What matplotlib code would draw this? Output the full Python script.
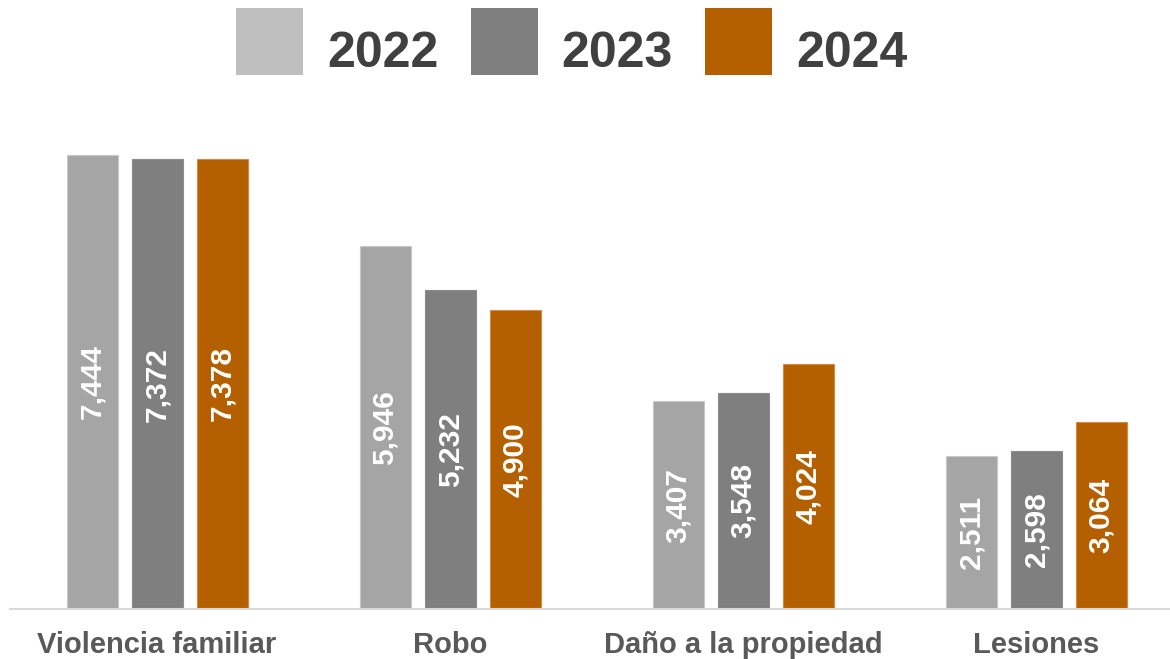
import matplotlib
matplotlib.use("Agg")
import matplotlib.pyplot as plt
from matplotlib.patches import Rectangle
import numpy as np

plt.rcParams['font.family'] = ['Liberation Sans', 'DejaVu Sans']

# datos por tipo de delito y año
categorias = ['Violencia familiar', 'Robo', 'Daño a la propiedad', 'Lesiones']
anios = ['2022', '2023', '2024']
v2022 = [7444, 5946, 3407, 2511]
v2023 = [7372, 5232, 3548, 2598]
v2024 = [7378, 4900, 4024, 3064]

colores_barra = ['#A5A5A5', '#7F7F7F', '#B56000']
bordes_barra = ['#C8C8C8', '#8C8C8C', '#D98A40']
colores_leyenda = ['#BFBFBF', '#7F7F7F', '#B56000']

W, H = 1170, 659
fig = plt.figure(figsize=(W / 100, H / 100), dpi=100)
ax = fig.add_axes([10 / W, 50 / H, 1160 / W, 488 / H])

x = np.arange(len(categorias))
ancho = 0.174
paso = 0.222
series = [v2022, v2023, v2024]

for i, valores in enumerate(series):
    pos = x + (i - 1) * paso
    barras = ax.bar(pos, valores, ancho, color=colores_barra[i],
                    edgecolor=bordes_barra[i], linewidth=0.8, zorder=2)
    for b, v in zip(barras, valores):
        ax.text(b.get_x() + b.get_width() / 2, v / 2, f'{v:,}',
                rotation=90, ha='center', va='center', color='white',
                fontsize=21.5, fontweight='bold')

ax.set_xlim(-0.502, 3.457)
ax.set_ylim(0, 8000)
ax.set_xticks(x)
ax.set_xticklabels(categorias, fontsize=21, fontweight='bold', color='#595959')
ax.tick_params(axis='x', length=0, pad=16)
ax.set_yticks([])
for lado in ['top', 'right', 'left']:
    ax.spines[lado].set_visible(False)
ax.spines['bottom'].set_color('#D9D9D9')
ax.spines['bottom'].set_linewidth(1.5)

# leyenda superior: cuadro de color + año
lado_px = 67
for i, (anio, c) in enumerate(zip(anios, colores_leyenda)):
    x0 = 236 + i * 234.5
    fig.add_artist(Rectangle((x0 / W, 1 - 75 / H), lado_px / W, lado_px / H,
                             transform=fig.transFigure, facecolor=c,
                             edgecolor='none'))
    fig.text((x0 + 91) / W, 1 - 67 / H, anio, ha='left', va='baseline',
             fontsize=36, fontweight='bold', color='#404040')

fig.savefig('out.png', dpi=100)
